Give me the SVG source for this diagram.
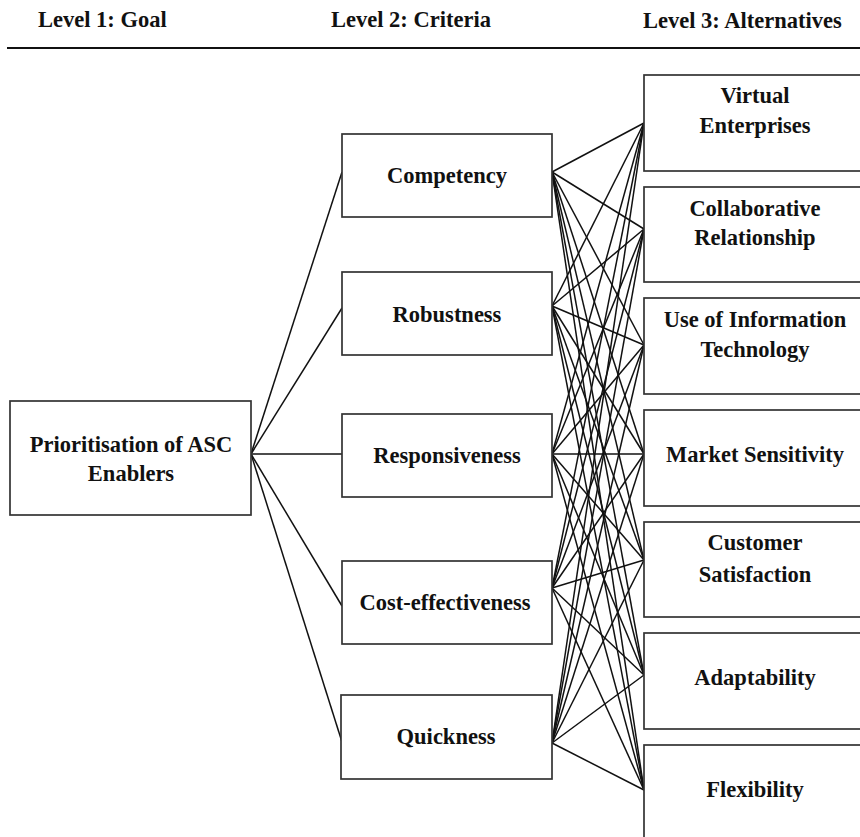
<svg xmlns="http://www.w3.org/2000/svg" width="860" height="837" viewBox="0 0 860 837">
  <style>
    .box { fill: #ffffff; stroke: #333333; stroke-width: 1.7; }
    .lbl { font-family: "Liberation Serif", "Times New Roman", serif; font-weight: bold; font-size: 22.5px; fill: #111111; text-anchor: middle; }
    .hdr { font-family: "Liberation Serif", "Times New Roman", serif; font-weight: bold; font-size: 22.5px; fill: #111111; }
    .edge { stroke: #111111; stroke-width: 1.5; fill: none; }
  </style>
  <rect width="860" height="837" fill="#ffffff"/>

  <!-- Level headings -->
  <g id="headings">
    <text class="hdr" x="38" y="27">Level 1: Goal</text>
    <text class="hdr" x="331" y="27">Level 2: Criteria</text>
    <text class="hdr" x="643" y="28">Level 3: Alternatives</text>
    <line x1="7" y1="48" x2="860" y2="48" stroke="#111111" stroke-width="1.8"/>
  </g>

  <!-- Connectors -->
  <g id="connectors" class="edge">
    <!-- goal to criteria -->
    <line x1="251" y1="454" x2="342" y2="172"/>
    <line x1="251" y1="454" x2="342" y2="308"/>
    <line x1="251" y1="454" x2="342" y2="454"/>
    <line x1="251" y1="454" x2="342" y2="606"/>
    <line x1="251" y1="454" x2="342" y2="742"/>
    <!-- Competency to alternatives -->
    <line x1="552" y1="172" x2="644" y2="123"/>
    <line x1="552" y1="172" x2="644" y2="229"/>
    <line x1="552" y1="172" x2="644" y2="345"/>
    <line x1="552" y1="172" x2="644" y2="454"/>
    <line x1="552" y1="172" x2="644" y2="560"/>
    <line x1="552" y1="172" x2="644" y2="675"/>
    <line x1="552" y1="172" x2="644" y2="790"/>
    <!-- Robustness to alternatives -->
    <line x1="552" y1="306" x2="644" y2="123"/>
    <line x1="552" y1="306" x2="644" y2="229"/>
    <line x1="552" y1="306" x2="644" y2="345"/>
    <line x1="552" y1="306" x2="644" y2="454"/>
    <line x1="552" y1="306" x2="644" y2="560"/>
    <line x1="552" y1="306" x2="644" y2="675"/>
    <line x1="552" y1="306" x2="644" y2="790"/>
    <!-- Responsiveness to alternatives -->
    <line x1="552" y1="454" x2="644" y2="123"/>
    <line x1="552" y1="454" x2="644" y2="229"/>
    <line x1="552" y1="454" x2="644" y2="345"/>
    <line x1="552" y1="454" x2="644" y2="454"/>
    <line x1="552" y1="454" x2="644" y2="560"/>
    <line x1="552" y1="454" x2="644" y2="675"/>
    <line x1="552" y1="454" x2="644" y2="790"/>
    <!-- Cost-effectiveness to alternatives -->
    <line x1="552" y1="588" x2="644" y2="123"/>
    <line x1="552" y1="588" x2="644" y2="229"/>
    <line x1="552" y1="588" x2="644" y2="345"/>
    <line x1="552" y1="588" x2="644" y2="454"/>
    <line x1="552" y1="588" x2="644" y2="560"/>
    <line x1="552" y1="588" x2="644" y2="675"/>
    <line x1="552" y1="588" x2="644" y2="790"/>
    <!-- Quickness to alternatives -->
    <line x1="552" y1="743" x2="644" y2="123"/>
    <line x1="552" y1="743" x2="644" y2="229"/>
    <line x1="552" y1="743" x2="644" y2="345"/>
    <line x1="552" y1="743" x2="644" y2="454"/>
    <line x1="552" y1="743" x2="644" y2="560"/>
    <line x1="552" y1="743" x2="644" y2="675"/>
    <line x1="552" y1="743" x2="644" y2="790"/>
  </g>

  <!-- Level 1: goal -->
  <g id="goal">
    <rect class="box" x="10" y="401" width="241" height="114"/>
    <text class="lbl" x="131" y="452">Prioritisation of ASC</text>
    <text class="lbl" x="131" y="481">Enablers</text>
  </g>

  <!-- Level 2: criteria -->
  <g id="competency">
    <rect class="box" x="342" y="134" width="210" height="83"/>
    <text class="lbl" x="447" y="183">Competency</text>
  </g>
  <g id="robustness">
    <rect class="box" x="342" y="272" width="210" height="83"/>
    <text class="lbl" x="447" y="322">Robustness</text>
  </g>
  <g id="responsiveness">
    <rect class="box" x="342" y="414" width="210" height="83"/>
    <text class="lbl" x="447" y="463">Responsiveness</text>
  </g>
  <g id="cost-effectiveness">
    <rect class="box" x="342" y="561" width="210" height="83"/>
    <text class="lbl" x="445" y="610">Cost-effectiveness</text>
  </g>
  <g id="quickness">
    <rect class="box" x="341" y="695" width="211" height="84"/>
    <text class="lbl" x="446" y="744">Quickness</text>
  </g>

  <!-- Level 3: alternatives -->
  <g id="virtual-enterprises">
    <rect class="box" x="644" y="75" width="230" height="96"/>
    <text class="lbl" x="755" y="103">Virtual</text>
    <text class="lbl" x="755" y="133">Enterprises</text>
  </g>
  <g id="collaborative-relationship">
    <rect class="box" x="644" y="187" width="230" height="95"/>
    <text class="lbl" x="755" y="216">Collaborative</text>
    <text class="lbl" x="755" y="245">Relationship</text>
  </g>
  <g id="use-of-it">
    <rect class="box" x="644" y="298" width="230" height="96"/>
    <text class="lbl" x="755" y="327">Use of Information</text>
    <text class="lbl" x="755" y="357">Technology</text>
  </g>
  <g id="market-sensitivity">
    <rect class="box" x="644" y="410" width="230" height="96"/>
    <text class="lbl" x="755" y="462">Market Sensitivity</text>
  </g>
  <g id="customer-satisfaction">
    <rect class="box" x="644" y="522" width="230" height="95"/>
    <text class="lbl" x="755" y="550">Customer</text>
    <text class="lbl" x="755" y="582">Satisfaction</text>
  </g>
  <g id="adaptability">
    <rect class="box" x="644" y="633" width="230" height="96"/>
    <text class="lbl" x="755" y="685">Adaptability</text>
  </g>
  <g id="flexibility">
    <rect class="box" x="644" y="745" width="230" height="96"/>
    <text class="lbl" x="755" y="797">Flexibility</text>
  </g>
</svg>
